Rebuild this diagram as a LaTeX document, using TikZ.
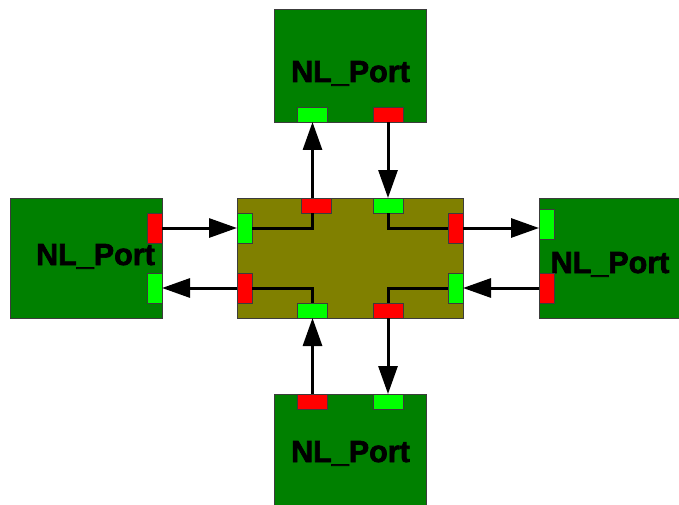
\documentclass[tikz,border=0pt]{standalone}
\usepackage{fontspec}
\setmainfont{Liberation Sans}
\newfontfamily\lblfont[FakeBold=2.2]{Liberation Sans Bold}
\usetikzlibrary{arrows.meta}
\definecolor{boxgreen}{RGB}{0,128,0}
\definecolor{olivebox}{RGB}{128,128,0}
\definecolor{portgreen}{RGB}{0,255,0}
\definecolor{portred}{RGB}{255,0,0}
\definecolor{edgegray}{RGB}{60,60,60}
\begin{document}
\begin{tikzpicture}[x=1pt,y=-1pt,
  bigbox/.style={draw=edgegray, line width=0.8pt, fill=boxgreen},
  corebox/.style={draw=edgegray, line width=0.8pt, fill=olivebox},
  hport/.style={draw=edgegray, line width=0.7pt, minimum width=30pt, minimum height=15pt, inner sep=0pt, outer sep=0pt},
  vport/.style={draw=edgegray, line width=0.7pt, minimum width=15pt, minimum height=30pt, inner sep=0pt, outer sep=0pt},
  redp/.style={fill=portred},
  greenp/.style={fill=portgreen},
  wire/.style={line width=3pt, black},
  arr/.style={line width=3pt, black, -{Triangle[length=28pt,width=19pt]}},
  lbl/.style={font=\fontsize{30.5}{31}\lblfont, text=black, inner sep=0pt, anchor=base}]
\useasboundingbox (0,0) rectangle (679,505);
% boxes
\path[bigbox] (274,9) rectangle (426,122);
\path[bigbox] (10,198) rectangle (162,318);
\path[bigbox] (539,198) rectangle (681,318);
\path[bigbox] (274,394) rectangle (426,507);
\path[corebox] (237,198) rectangle (463,318);
% labels
\node[lbl] (tl) at (350.5,82) {NL\_Port};
\node[lbl] (ll) at (95.5,265) {NL\_Port};
\node[lbl] (rl) at (610,273) {NL\_Port};
\node[lbl] (bl) at (350.5,462) {NL\_Port};
% center ports
\node[hport,redp] (cTR) at (316,205.5) {};
\node[hport,greenp] (cTG) at (388,205.5) {};
\node[vport,greenp] (cLG) at (244.5,228) {};
\node[vport,redp] (cRR) at (455.5,228) {};
\node[vport,redp] (cLR) at (244.5,288) {};
\node[vport,greenp] (cRG) at (455.5,288) {};
\node[hport,greenp] (cBG) at (312.5,310.5) {};
\node[hport,redp] (cBR) at (388,310.5) {};
% outer ports
\node[hport,greenp] (tG) at (312.5,114.5) {};
\node[hport,redp] (tR) at (388,114.5) {};
\node[hport,redp] (bR) at (312.5,401.5) {};
\node[hport,greenp] (bG) at (388,401.5) {};
\node[vport,redp] (lR) at (154.5,228) {};
\node[vport,greenp] (lG) at (154.5,288) {};
\node[vport,greenp] (rG) at (546.5,224) {};
\node[vport,redp] (rR) at (546.5,288) {};
% internal wires
\draw[wire] (cLG.east) -| (tG |- cTR.south);
\draw[wire] (cRR.west) -| (cTG.south);
\draw[wire] (cLR.east) -| (cBG.north);
\draw[wire] (cRG.west) -| (cBR.north);
% arrows
\draw[arr] (tG |- cTR.north) -- (tG.south);
\draw[arr] (tR.south) -- (cTG.north);
\draw[arr] (bR.north) -- (cBG.south);
\draw[arr] (cBR.south) -- (bG.north);
\draw[arr] (lR.east) -- (cLG.west);
\draw[arr] (cLR.west) -- (lG.east);
\draw[arr] (cRR.east) -- (cRR.east -| rG.west);
\draw[arr] (rR.west) -- (cRG.east);
\end{tikzpicture}
\end{document}
